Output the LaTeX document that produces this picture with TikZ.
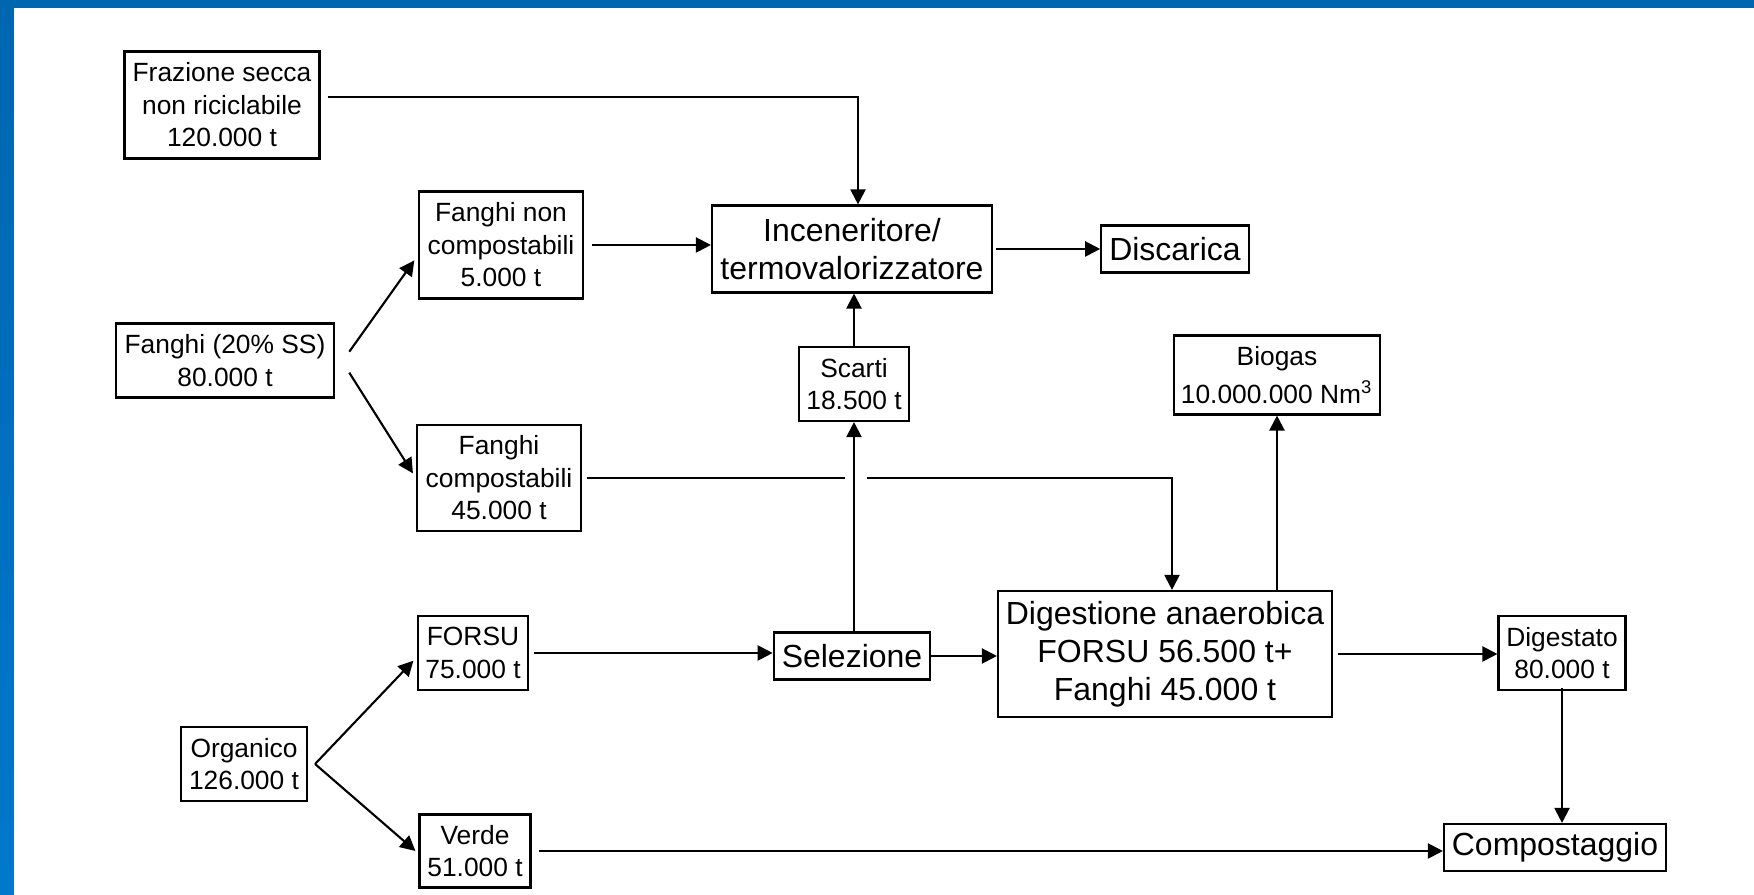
\documentclass[tikz,border=0pt]{standalone}
\usepackage{fontspec}
\setmainfont{Liberation Sans}
\usetikzlibrary{arrows.meta}
\definecolor{framebar}{HTML}{0066B0}
\definecolor{framelow}{HTML}{0078CC}
\tikzset{
	box/.style={draw, line width=0.6pt, align=center, inner sep=0pt, font=\fontsize{7.5}{9.25}\selectfont},
	bigbox/.style={box, font=\fontsize{9.1}{10.8}\selectfont},
	link/.style={line width=0.6pt},
	flow/.style={link, -{Triangle[length=4.3pt,width=4.3pt]}}
}

\begin{document}
\begin{tikzpicture}
		\useasboundingbox (0,0) rectangle (17.54,8.95);
		% cornice blu
		\shade[top color=framebar, bottom color=framelow] (0,0) rectangle (0.14,8.95);
		\fill[framebar] (0,8.87) rectangle (17.54,8.95);

		\node[box, minimum width=1.95cm, minimum height=1.07cm] (frazione) at (2.22,7.90) {Frazione secca\\non riciclabile\\120.000 t};
		\node[bigbox, minimum width=2.80cm, minimum height=0.87cm] (incin) at (8.52,6.46) {Inceneritore/\\termovalorizzatore};
		\node[bigbox, minimum width=1.475cm, minimum height=0.47cm] (discarica) at (11.75,6.46) {Discarica};
		\node[box, minimum width=1.64cm, minimum height=1.07cm] (fnc) at (5.01,6.50) {Fanghi non\\compostabili\\5.000 t};
		\node[box, minimum width=2.175cm, minimum height=0.74cm] (fanghi) at (2.25,5.345) {Fanghi (20\% SS)\\80.000 t};
		\node[box, minimum width=1.10cm, minimum height=0.74cm] (scarti) at (8.54,5.11) {Scarti\\18.500 t};
		\node[box, minimum width=2.06cm, minimum height=0.79cm] (biogas) at (12.77,5.20) {Biogas\\[0.06cm]10.000.000 Nm\textsuperscript{3}};
		\node[box, minimum width=1.64cm, minimum height=1.06cm] (fc) at (4.99,4.17) {Fanghi\\compostabili\\45.000 t};
		\node[box, minimum width=1.10cm, minimum height=0.74cm] (forsu) at (4.73,2.42) {FORSU\\75.000 t};
		\node[bigbox, minimum width=1.565cm, minimum height=0.47cm] (selezione) at (8.52,2.39) {Selezione};
		\node[bigbox, minimum width=3.34cm, minimum height=1.26cm] (digestione) at (11.65,2.41) {Digestione anaerobica\\FORSU 56.500 t+\\Fanghi 45.000 t};
		\node[box, minimum width=1.27cm, minimum height=0.74cm] (digestato) at (15.62,2.42) {Digestato\\80.000 t};
		\node[box, minimum width=1.26cm, minimum height=0.74cm] (organico) at (2.44,1.31) {Organico\\126.000 t};
		\node[box, minimum width=1.11cm, minimum height=0.73cm] (verde) at (4.75,0.44) {Verde\\51.000 t};
		\node[bigbox, minimum width=2.22cm, minimum height=0.47cm] (compost) at (15.55,0.475) {Compostaggio};

		% flussi
		\draw[flow] ([xshift=0.07cm,yshift=0.08cm]frazione.east) -| ([xshift=0.06cm]incin.north);
		\draw[flow] ([xshift=0.08cm]fnc.east) -- (fnc.east -| incin.west);
		\draw[flow] ([xshift=0.03cm]incin.east) -- (discarica.west);
		\draw[flow] ([xshift=0.145cm,yshift=0.088cm]fanghi.east) -- ([xshift=-0.036cm,yshift=-0.154cm]fnc.west);
		\draw[flow] ([xshift=0.145cm,yshift=-0.122cm]fanghi.east) -- ([xshift=-0.03cm,yshift=0.046cm]fc.west);
		\draw[flow] (scarti.north) -- (scarti.north |- incin.south);
		\draw[flow] (selezione.north -| scarti.south) -- (scarti.south);
		\coordinate (salto) at (scarti.south |- fc.east);
		\draw[link] ([xshift=0.045cm]fc.east) -- ([xshift=-0.095cm]salto);
		\draw[flow] ([xshift=0.13cm]salto) -| ([xshift=0.07cm]digestione.north);
		\draw[flow] ([xshift=0.05cm]forsu.east) -- (forsu.east -| selezione.west);
		\draw[flow] (selezione.east) -- (selezione.east -| digestione.west);
		\draw[flow] (digestione.north -| biogas.south) -- (biogas.south);
		\draw[flow] ([xshift=0.05cm]digestione.east) -- (digestione.east -| digestato.west);
		\draw[flow] ([yshift=0.035cm]digestato.south) -- (digestato.south |- compost.north);
		\draw[flow] ([xshift=0.07cm]organico.east) -- ([xshift=-0.035cm,yshift=-0.077cm]forsu.west);
		\draw[flow] ([xshift=0.07cm]organico.east) -- ([xshift=-0.03cm]verde.west);
		\draw[flow] ([xshift=0.075cm]verde.east) -- (verde.east -| compost.west);
	\end{tikzpicture}
\end{document}
